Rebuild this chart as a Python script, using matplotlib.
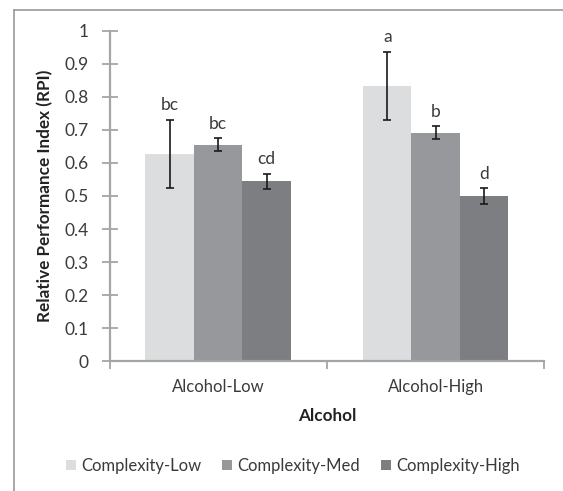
import numpy as np
import matplotlib.pyplot as plt
from matplotlib.patches import Patch
from matplotlib.lines import Line2D

plt.rcParams['font.family'] = ['Lato', 'DejaVu Sans']

groups = ['Alcohol-Low', 'Alcohol-High']
series = ['Complexity-Low', 'Complexity-Med', 'Complexity-High']
rpi = {
    'Complexity-Low': [0.627, 0.832],
    'Complexity-Med': [0.655, 0.692],
    'Complexity-High': [0.544, 0.500],
}
err = {
    'Complexity-Low': [0.103, 0.103],
    'Complexity-Med': [0.019, 0.019],
    'Complexity-High': [0.022, 0.023],
}
letters = {
    'Complexity-Low': ['bc', 'a'],
    'Complexity-Med': ['bc', 'b'],
    'Complexity-High': ['cd', 'd'],
}
colors = ['#dcdddf', '#97989b', '#7d7e82']

axis_grey = '#a5a5a5'
text_grey = '#3a3a3a'

fig = plt.figure(figsize=(5.63, 4.91), dpi=100)
ax = fig.add_axes([0.1945, 0.2642, 0.7725, 0.6733])

x = np.arange(len(groups))
w = 0.223
for i, s in enumerate(series):
    xs = x + (i - 1) * w
    ax.bar(xs, rpi[s], width=w, color=colors[i], label=s, zorder=2)
    ax.errorbar(xs, rpi[s], yerr=err[s], fmt='none', ecolor='#1a1a1a',
                elinewidth=1.2, capsize=3, capthick=1.2, zorder=3)
    for xi, yi, ei, lab in zip(xs, rpi[s], err[s], letters[s]):
        ax.annotate(lab, (xi, yi + ei), xytext=(0, 7), textcoords='offset points',
                    ha='center', va='baseline', fontsize=12.5, color=text_grey)

ax.set_xlim(-0.5, 1.5)
ax.set_ylim(0, 1)
ax.set_yticks(np.arange(0, 1.01, 0.1))
ax.set_yticklabels(['0', '0.1', '0.2', '0.3', '0.4', '0.5', '0.6', '0.7', '0.8', '0.9', '1'])
ax.set_xticks(x)
ax.set_xticklabels(groups)
ax.set_xticks([-0.5, 0.5, 1.5], minor=True)
ax.tick_params(axis='x', which='major', length=0, pad=13, labelsize=12, labelcolor=text_grey)
ax.tick_params(axis='x', which='minor', length=6, width=1.3, color=axis_grey, direction='out')
ax.tick_params(axis='y', length=12, width=1.3, color=axis_grey, direction='inout',
               pad=9, labelsize=12.5, labelcolor=text_grey)

for side in ['top', 'right']:
    ax.spines[side].set_visible(False)
for side in ['left', 'bottom']:
    ax.spines[side].set_color(axis_grey)
    ax.spines[side].set_linewidth(1.6)

ax.set_ylabel('Relative Performance Index (RPI)', fontsize=12.3, fontweight='bold',
              color='#222222', labelpad=8)
ax.set_xlabel('Alcohol', fontsize=12.3, fontweight='bold', color='#222222', labelpad=9)

handles = [Patch(facecolor=c, edgecolor='none') for c in colors]
fig.legend(handles, series, loc='center', bbox_to_anchor=(0.52, 0.051), ncol=3,
           frameon=False, fontsize=12, handlelength=0.62, handleheight=0.62,
           handletextpad=0.3, columnspacing=1.25, labelcolor=text_grey)

# outer chart frame (left and top edges)
fig.add_artist(Line2D([14 / 563, 14 / 563], [0, 1 - 9.5 / 491], color='#9a9a9a', lw=1.2))
fig.add_artist(Line2D([14 / 563, 1], [1 - 9.5 / 491, 1 - 9.5 / 491], color='#9a9a9a', lw=1.2))

fig.savefig('out.png', dpi=100)
